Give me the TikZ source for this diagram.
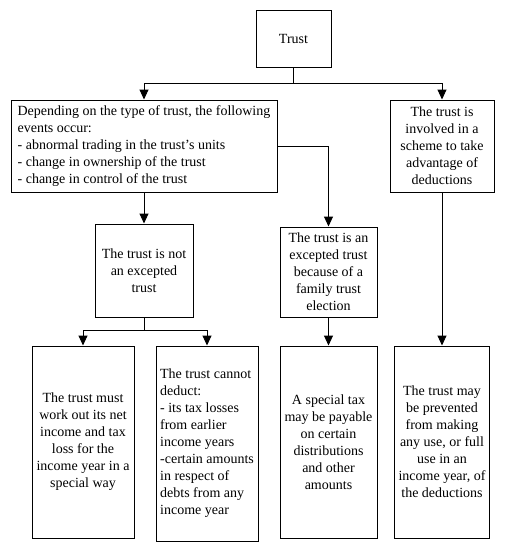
\documentclass[tikz,border=0pt]{standalone}
\usepackage{fontspec}
\setmainfont{Liberation Serif}
\usetikzlibrary{arrows.meta}

\begin{document}
\begin{tikzpicture}[x=1pt, y=-1pt, >={Triangle[width=9pt,length=10pt]},
    box/.style={draw, line width=1pt, inner sep=2pt, font=\fontsize{14}{17}\selectfont},
    link/.style={line width=1pt}]
    \useasboundingbox (0,0) rectangle (506,551);

    \node[box, minimum width=75, minimum height=56] (trust) at (293.5,39) {Trust};

    \node[box, align=left, minimum width=266, minimum height=92] (events) at (144,146)
        {Depending on the type of trust, the following\\events occur:\\- abnormal trading in the trust\char"0027 s units\\- change in ownership of the trust\\- change in control of the trust};
    \node[box, align=center, minimum width=104, minimum height=92] (scheme) at (442,146)
        {The trust is\\involved in a\\scheme to take\\advantage of\\deductions};

    \node[box, align=center, minimum width=98, minimum height=93] (notexc) at (144,270.5)
        {The trust is not\\an excepted\\trust};
    \node[box, align=center, minimum width=97, minimum height=90] (excepted) at (328.5,272)
        {The trust is an\\excepted trust\\because of a\\family trust\\election};

    \node[box, align=center, minimum width=102, minimum height=192] (workout) at (83,442)
        {The trust must\\work out its net\\income and tax\\loss for the\\income year in a\\special way};
    \node[box, align=left, minimum width=102, minimum height=195] (nodeduct) at (207,443.5)
        {The trust cannot\\deduct:\\- its tax losses\\from earlier\\income years\\-certain amounts\\in respect of\\debts from any\\income year};
    \node[box, align=center, minimum width=97, minimum height=192] (specialtax) at (328.5,442)
        {A special tax\\may be payable\\on certain\\distributions\\and other\\amounts};
    \node[box, align=center, minimum width=95, minimum height=192] (prevented) at (442,442)
        {The trust may\\be prevented\\from making\\any use, or full\\use in an\\income year, of\\the deductions};

    \coordinate (topsplit) at (293.5,83);
    \coordinate (lowsplit) at (144,330);

    \draw[link] (trust.south) -- (topsplit);
    \draw[link,->] (topsplit) -| (events.north);
    \draw[link,->] (topsplit) -| (scheme.north);
    \draw[link,->] (events.east) -| (excepted.north);
    \draw[link,->] (events.south) -- (notexc.north);
    \draw[link] (notexc.south) -- (lowsplit);
    \draw[link,->] (lowsplit) -| (workout.north);
    \draw[link,->] (lowsplit) -| (nodeduct.north);
    \draw[link,->] (excepted.south) -- (specialtax.north);
    \draw[link,->] (scheme.south) -- (prevented.north);
\end{tikzpicture}
\end{document}
